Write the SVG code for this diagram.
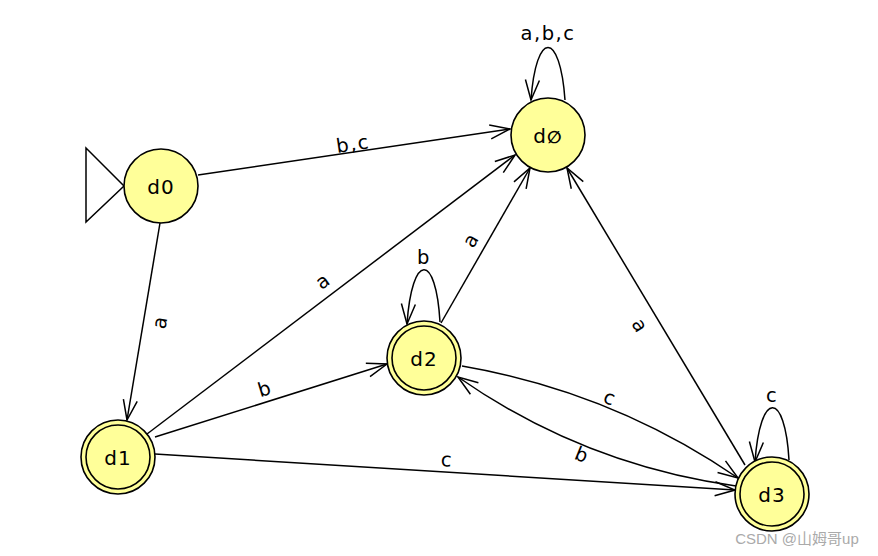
<svg xmlns="http://www.w3.org/2000/svg" width="878" height="556" viewBox="0 0 878 556">
<defs>
<style>
.node{fill:#ffff99;stroke:#000;stroke-width:1.6}
.inner{fill:none;stroke:#000;stroke-width:1.6}
.edge{fill:none;stroke:#000;stroke-width:1.5;marker-end:url(#arr)}
.nl{font-family:"DejaVu Sans",sans-serif;font-size:20px;letter-spacing:1px;text-anchor:middle;dominant-baseline:central;fill:#000}
.el{font-family:"DejaVu Sans",sans-serif;font-size:19.5px;letter-spacing:1.5px;text-anchor:middle;dominant-baseline:central;fill:#000}
</style>
<marker id="arr" markerUnits="userSpaceOnUse" markerWidth="24" markerHeight="18" viewBox="-22 -9 24 18" refX="0" refY="0" orient="auto">
<path d="M-20,-7 L0,0 L-20,7" fill="none" stroke="#000" stroke-width="1.5"/>
</marker>
</defs>
<rect width="878" height="556" fill="#fff"/>
<g id="connectors">
<line class="edge" x1="198" y1="175" x2="510" y2="129"/>
<line class="edge" x1="160" y1="223" x2="127" y2="420"/>
<line class="edge" x1="147" y1="434" x2="515" y2="155"/>
<line class="edge" x1="155" y1="437" x2="387" y2="364"/>
<line class="edge" x1="155" y1="454" x2="735" y2="490"/>
<line class="edge" x1="441" y1="323" x2="530" y2="168"/>
<line class="edge" x1="745" y1="465" x2="567" y2="168"/>
<path class="edge" d="M462,366 Q613,392 738,478"/>
<path class="edge" d="M736,486 Q584,465 458,377"/>
<path class="edge" d="M565,100 C560,30 536,30 531,100"/>
<path class="edge" d="M440,322 C436,252 412,252 407,324"/>
<path class="edge" d="M789,460 C785,390 760,390 755,462"/>
</g>
<g id="labels">
<text class="el" transform="translate(353,144) rotate(-8.4)">b,c</text>
<text class="el" transform="translate(160,322) rotate(-80)">a</text>
<text class="el" transform="translate(323,281) rotate(-36)">a</text>
<text class="el" transform="translate(265,389) rotate(-17)">b</text>
<text class="el" transform="translate(447,460) rotate(3.5)">c</text>
<text class="el" transform="translate(471,240) rotate(-60)">a</text>
<text class="el" transform="translate(640,326) rotate(59)">a</text>
<text class="el" transform="translate(610,398) rotate(22)">c</text>
<text class="el" transform="translate(582,455) rotate(22)">b</text>
<text class="el" x="548" y="33">a,b,c</text>
<text class="el" x="424" y="257">b</text>
<text class="el" x="772" y="395">c</text>
</g>
<g id="start">
<polygon points="86,148 86,222 124,186" fill="#fff" stroke="#000" stroke-width="1.5"/>
</g>
<g id="d0">
<circle class="node" cx="161" cy="186" r="37"/>
<text class="nl" x="161" y="187">d0</text>
</g>
<g id="dempty">
<circle class="node" cx="548" cy="135" r="37"/>
<text class="nl" x="548" y="136">d<tspan font-size="17px" font-weight="bold" dy="1">∅</tspan></text>
</g>
<g id="d2">
<circle class="node" cx="424" cy="358" r="37"/>
<circle class="inner" cx="424" cy="358" r="32"/>
<text class="nl" x="424" y="359">d2</text>
</g>
<g id="d1">
<circle class="node" cx="118" cy="457" r="37"/>
<circle class="inner" cx="118" cy="457" r="32"/>
<text class="nl" x="118" y="458">d1</text>
</g>
<g id="d3">
<circle class="node" cx="772" cy="494" r="37"/>
<circle class="inner" cx="772" cy="494" r="32"/>
<text class="nl" x="772" y="495">d3</text>
</g>
<text x="797" y="538" font-family="Liberation Sans,'Noto Sans CJK SC',sans-serif" font-size="15" fill="#aaa" text-anchor="middle" dominant-baseline="central">CSDN @山姆哥up</text>
</svg>
